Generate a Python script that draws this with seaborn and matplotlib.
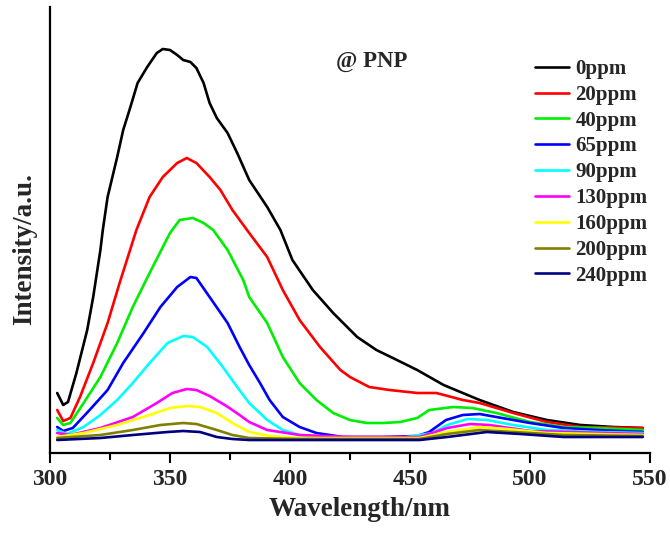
import matplotlib
matplotlib.use("Agg")
import matplotlib.pyplot as plt
from matplotlib.ticker import MultipleLocator
import pandas as pd
import seaborn as sns

# Fluorescence emission spectra of PNP at increasing concentrations
labels = ["0ppm", "20ppm", "40ppm", "65ppm", "90ppm",
          "130ppm", "160ppm", "200ppm", "240ppm"]
colors = ["#000000", "#FF0000", "#00EE00", "#0000FF", "#00FFFF",
          "#FF00FF", "#FFFF00", "#808000", "#000080"]

wl_0 = [303, 305.5, 307.5, 311, 315.5, 318, 321, 322, 324, 328, 330.5, 333.5,
        336.5, 340.5, 344.5, 347, 350, 353, 355.5, 358.5, 361, 364, 366.5,
        369.5, 374, 378, 383, 390.5, 396, 401, 409.5, 418, 428, 436, 442, 453,
        464, 479, 493, 507, 521, 535, 547]
int_0 = [60, 48, 51, 80, 123, 156, 203, 223, 256, 296, 323, 346,
         370, 386, 400, 404, 403, 398, 393, 391, 385, 370, 350,
         335, 320, 300, 273, 246, 223, 193, 163, 140, 116, 103, 96, 83,
         68, 53, 41, 33, 28, 26, 25]

wl_20 = [303, 305.5, 308.5, 312.5, 318, 324, 329, 336, 341.5, 347, 353, 357,
         361, 366.5, 371, 376, 383, 390.5, 397, 404, 412.5, 421, 425, 433,
         441.5, 453, 461, 472, 479, 493, 507, 521, 547]
int_20 = [43, 32, 35, 56, 90, 130, 170, 223, 256, 276, 290, 295,
          290, 276, 263, 243, 220, 196, 163, 133, 106, 83, 76, 66,
          63, 60, 60, 53, 50, 40, 31, 26, 25]

wl_40 = [303, 305.5, 308.5, 314, 321, 328, 334.5, 341.5, 350, 354, 359.5,
         364, 368, 374, 380.5, 383, 390.5, 397, 404, 411, 418, 425, 432,
         439, 446, 453, 458, 468, 476, 486, 500, 514, 528, 547]
int_40 = [35, 28, 30, 50, 76, 110, 146, 180, 220, 233, 235,
          230, 223, 203, 173, 156, 130, 96, 70, 53, 40, 33, 30,
          30, 31, 35, 43, 46, 45, 40, 31, 26, 25, 23]

wl_65 = [303, 305.5, 309.5, 316.5, 324, 330.5, 339, 346, 353, 358.5, 361,
         366.5, 374, 379, 383, 387.5, 391.5, 397, 404, 411, 422, 439, 453,
         458, 465, 472, 479, 486, 500, 514, 528, 547]
int_65 = [26, 22, 25, 43, 63, 90, 120, 146, 166, 176, 175,
          156, 130, 106, 88, 70, 53, 36, 26, 20, 16, 16, 17,
          21, 33, 38, 39, 36, 30, 25, 23, 21]

wl_90 = [303, 307, 314, 321, 328, 334.5, 341.5, 349, 355.5, 359.5, 365.5,
         372, 378, 383, 390.5, 397, 404, 418, 446, 459.5, 465.5, 474, 482,
         493, 507, 528, 547]
int_90 = [23, 19, 26, 38, 53, 70, 90, 110, 117, 116, 106,
          86, 66, 50, 33, 23, 18, 15, 15, 20, 28, 34, 33,
          28, 23, 21, 20]

wl_130 = [303, 308.5, 321, 334.5, 344.5, 351, 357, 361, 366.5, 373.5, 379,
          383, 390.5, 404, 425, 454, 465.5, 475, 483, 500, 547]
int_130 = [20, 18, 25, 36, 50, 60, 64, 63, 57, 47, 38,
           31, 23, 18, 16, 16, 25, 29, 28, 22, 19]

wl_160 = [303, 314, 328, 341.5, 350, 357, 362.5, 369.5, 376, 383, 391.5,
          404, 454, 465.5, 479, 490.5, 507, 547]
int_160 = [16, 20, 28, 38, 45, 47, 46, 40, 30, 21, 17,
           15, 15, 21, 26, 24, 20, 18]

wl_200 = [303, 321, 334.5, 346, 355.5, 361, 369.5, 376, 383, 404, 454,
          465.5, 479, 493, 514, 547]
int_200 = [15, 18, 23, 28, 30, 29, 23, 18, 15, 14, 14,
           19, 23, 21, 18, 17]

wl_240 = [303, 321, 334.5, 349, 355.5, 362.5, 369.5, 376, 383, 454, 465.5,
          482, 496, 514, 547]
int_240 = [13, 15, 18, 21, 22, 21, 16, 14, 13, 13, 16,
           21, 19, 16, 16]

wavelengths = [wl_0, wl_20, wl_40, wl_65, wl_90, wl_130, wl_160, wl_200, wl_240]
intensities = [int_0, int_20, int_40, int_65, int_90, int_130, int_160, int_200, int_240]

df = pd.concat(
    [pd.DataFrame({"Wavelength": w, "Intensity": i, "Concentration": lab})
     for lab, w, i in zip(labels, wavelengths, intensities)],
    ignore_index=True,
)

sns.set_theme(style="white")
plt.rcParams["font.family"] = ["Liberation Serif", "DejaVu Serif"]
plt.rcParams["font.weight"] = "bold"

W, H = 670, 533
fig = plt.figure(figsize=(W / 100, H / 100), dpi=100)
ax = fig.add_axes([50 / W, 80 / H, 600 / W, 446 / H])

sns.lineplot(data=df, x="Wavelength", y="Intensity", hue="Concentration",
             hue_order=labels, palette=colors, linewidth=1.9,
             estimator=None, sort=True, legend=False, ax=ax)
for line in ax.get_lines():
    line.set_solid_joinstyle("round")
    line.set_solid_capstyle("round")

ax.set_xlim(300, 550)
ax.set_ylim(0, 446)
ax.set_xlabel("")
ax.set_ylabel("")

for side in ("top", "right"):
    ax.spines[side].set_visible(False)
for side in ("left", "bottom"):
    ax.spines[side].set_color("black")
    ax.spines[side].set_linewidth(1.6)

ax.xaxis.set_major_locator(MultipleLocator(50))
ax.xaxis.set_minor_locator(MultipleLocator(25))
ax.tick_params(axis="x", which="major", bottom=True, direction="out",
               length=7.5, width=1.5, color="black", labelsize=17, pad=4)
ax.tick_params(axis="x", which="minor", bottom=True, direction="out",
               length=5, width=1.5, color="black")
ax.tick_params(axis="y", left=False, labelleft=False)
for t in ax.get_xticklabels():
    t.set_fontweight("bold")

fig.text(360 / W, 1 - 510 / H, "Wavelength/nm", ha="center", va="center",
         fontsize=19.5, fontweight="bold")
fig.text(25 / W, 1 - 249 / H, "Intensity/a.u.", ha="center", va="center",
         rotation=90, fontsize=19.5, fontweight="bold")
ax.text((372 - 50) / 600, (453 - 62) / 446, "@ PNP", transform=ax.transAxes,
        ha="center", va="center", fontsize=16.5, fontweight="bold")

handles = ax.get_lines()[:len(labels)]
leg = ax.legend(handles, labels, loc="upper left",
                bbox_to_anchor=((535 - 50) / 600, (453 - 59) / 446),
                frameon=False, borderpad=0, borderaxespad=0,
                handlelength=1.65, handletextpad=0.3, labelspacing=0.28,
                prop={"size": 15, "weight": "bold"})
for line in leg.get_lines():
    line.set_linewidth(1.9)

fig.savefig("out.png", dpi=100)
